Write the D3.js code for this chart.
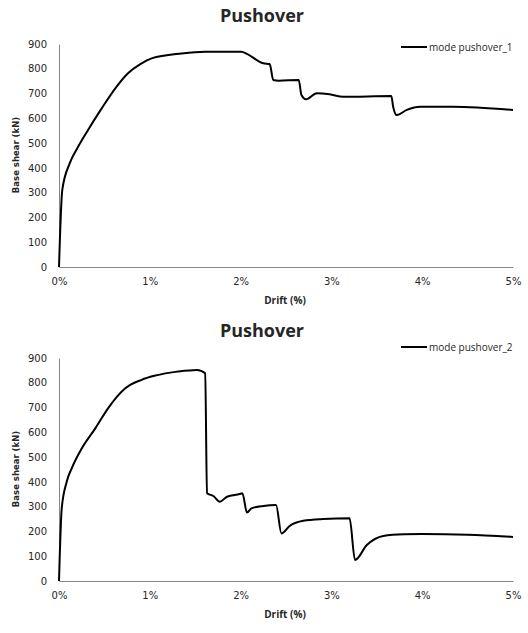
<!DOCTYPE html>
<html>
<head>
<meta charset="utf-8">
<script src="https://cdn.jsdelivr.net/npm/d3@7"></script>
<style>
  body { margin: 0; background: #fff; }
  svg text { fill: #262626; }
</style>
</head>
<body>
<svg id="chart" width="528" height="633"></svg>
<script>
// tick labels
var driftTicks = [0, 1, 2, 3, 4, 5];
var shearTicks = [0, 100, 200, 300, 400, 500, 600, 700, 800, 900];

// mode pushover_1 : drift (%) / base shear (kN)
var drift1 = [0, 0.036, 0.12, 0.21, 0.32, 0.47, 0.62, 0.76, 0.9, 1.02, 1.35, 1.61, 2.01, 2.07, 2.25, 2.32, 2.36, 2.42, 2.64, 2.67, 2.72, 2.84, 2.98, 3.13, 3.66, 3.68, 3.72, 3.83, 3.98, 4.34, 5.0];
var shear1 = [0, 311, 420, 485, 553, 640, 721, 782, 820, 842, 862, 869, 869, 860, 822, 819, 755, 752, 755, 694, 677, 701, 697, 687, 690, 647, 613, 634, 647, 647, 634];

// mode pushover_2
var drift2 = [0, 0.03, 0.085, 0.14, 0.25, 0.40, 0.54, 0.73, 0.91, 1.05, 1.17, 1.30, 1.52, 1.61, 1.63, 1.70, 1.77, 1.85, 1.99, 2.02, 2.07, 2.12, 2.25, 2.39, 2.45, 2.54, 2.69, 2.91, 3.20, 3.26, 3.39, 3.57, 3.8, 4.0, 4.5, 5.0];
var shear2 = [0, 293, 401, 455, 535, 616, 697, 778, 812, 828, 838, 845, 852, 838, 354, 343, 320, 340, 351, 354, 276, 293, 303, 307, 192, 222, 243, 250, 253, 85, 145, 182, 189, 190, 187, 178];

var svg = d3.select("#chart");

function drawChart(top, drift, shear, name, titleY, legendY) {
	var x = d3.scaleLinear().domain([0, 5]).range([59, 513]);
	var y = d3.scaleLinear().domain([0, 900]).range([top + 223, top]);
	var g = svg.append("g");

	g.append("text")
		.attr("x", 262).attr("y", titleY)
		.attr("text-anchor", "middle")
		.style("font", "bold 18px 'Open Sans'")
		.text("Pushover");

	var yAxis = g.append("g")
		.attr("transform", "translate(59,0)")
		.call(d3.axisLeft(y).tickValues(shearTicks).tickSize(0).tickPadding(12));
	var xAxis = g.append("g")
		.attr("transform", "translate(0," + (top + 223) + ")")
		.call(d3.axisBottom(x).tickValues(driftTicks).tickSize(0).tickPadding(11)
			.tickFormat(function(d) { return d + "%"; }));
	[xAxis, yAxis].forEach(function(a) {
		a.select(".domain").attr("stroke", "#868686");
		a.selectAll("text").style("font", "10px 'DejaVu Sans'").attr("fill", "#262626");
	});

	g.append("text")
		.attr("transform", "translate(19," + (top + 111) + ") rotate(-90)")
		.attr("text-anchor", "middle")
		.style("font", "bold 8.5px 'DejaVu Sans'")
		.text("Base shear (kN)");
	g.append("text")
		.attr("x", 285).attr("y", top + 260)
		.attr("text-anchor", "middle")
		.style("font", "bold 10px 'Open Sans'")
		.text("Drift (%)");

	var line = d3.line()
		.x(function(d, i) { return x(drift[i]); })
		.y(function(d) { return y(d); })
		.curve(d3.curveMonotoneX);
	g.append("path")
		.datum(shear)
		.attr("fill", "none")
		.attr("stroke", "#000")
		.attr("stroke-width", 2)
		.attr("d", line);

	g.append("line")
		.attr("x1", 401).attr("x2", 427)
		.attr("y1", legendY).attr("y2", legendY)
		.attr("stroke", "#000").attr("stroke-width", 2);
	g.append("text")
		.attr("x", 429).attr("y", legendY + 3.5)
		.style("font", "10px 'Open Sans'")
		.text(name);
}

drawChart(44, drift1, shear1, "mode pushover_1", 22, 47);
drawChart(358, drift2, shear2, "mode pushover_2", 337, 347);
</script>
</body>
</html>
